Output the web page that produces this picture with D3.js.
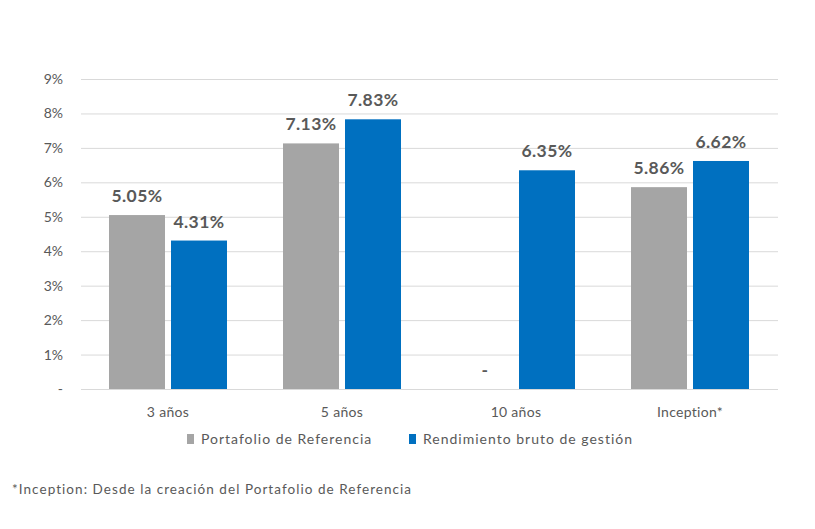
<!DOCTYPE html>
<html><head><meta charset="utf-8">
<script src="https://cdn.jsdelivr.net/npm/d3@7"></script>
<style>body{margin:0;background:#fff}svg{display:block}text{font-family:Lato,"Open Sans",sans-serif}</style>
</head><body>
<script>
const categories = ["3 años","5 años","10 años","Inception*"];
const seriesNames = ["Portafolio de Referencia","Rendimiento bruto de gestión"];
const portafolio = [5.05, 7.13, 0, 5.86];
const rendimiento = [4.31, 7.83, 6.35, 6.62];
const yTicks = [0,1,2,3,4,5,6,7,8,9];
const colors = ["#A5A5A5","#0070C0"];

const W=815,H=529;
const svg=d3.select("body").append("svg").attr("width",W).attr("height",H);
const x0=d3.scaleBand().domain(categories).range([81,777]);
const y=d3.scaleLinear().domain([0,9]).range([389,79]);

const g=svg.append("g");
g.selectAll("line.grid").data(yTicks).join("line")
 .attr("x1",81).attr("x2",778).attr("y1",d=>y(d)+0.5).attr("y2",d=>y(d)+0.5)
 .attr("stroke","#D9D9D9").attr("stroke-width",1);
g.selectAll("text.yt").data(yTicks).join("text")
 .attr("x",63).attr("y",d=>y(d)+5).attr("text-anchor","end")
 .attr("font-size",14).attr("fill","#595959")
 .text(d=>d===0?"-":d+"%");

const data=categories.map((c,i)=>({c,vals:[portafolio[i],rendimiento[i]]}));
const barW=56, inner=6;
const off=(s)=> (174-2*barW-inner)/2 + s*(barW+inner);
const grp=g.selectAll("g.cat").data(data).join("g").attr("transform",d=>`translate(${x0(d.c)},0)`);
grp.selectAll("rect").data(d=>d.vals.map((v,s)=>({v,s}))).join("rect")
 .attr("x",d=>off(d.s)).attr("width",barW)
 .attr("y",d=>y(d.v)).attr("height",d=>y(0)-y(d.v))
 .attr("fill",d=>colors[d.s]);
grp.selectAll("text.lab").data(d=>d.vals.map((v,s)=>({v,s}))).join("text")
 .attr("x",d=>off(d.s)+barW/2).attr("y",d=>y(d.v)-13)
 .attr("text-anchor","middle").attr("font-size",17.5).attr("font-weight","bold").attr("fill","#595959")
 .attr("letter-spacing",0.4)
 .text(d=>d.v===0?"-":d.v.toFixed(2)+"%");

g.selectAll("text.cat").data(categories).join("text")
 .attr("x",d=>x0(d)+87).attr("y",417).attr("text-anchor","middle")
 .attr("font-size",14).attr("fill","#595959").attr("letter-spacing",0.3).text(d=>d);

const leg=[{x:187,tx:201},{x:409,tx:423}];
seriesNames.forEach((n,i)=>{
  svg.append("rect").attr("x",leg[i].x).attr("y",434).attr("width",7).attr("height",10).attr("fill",colors[i]);
  svg.append("text").attr("x",leg[i].tx).attr("y",444).attr("font-size",14).attr("fill","#595959")
   .attr("letter-spacing",1).text(n);
});
svg.append("text").attr("x",12).attr("y",494).attr("font-size",13.5).attr("fill","#595959")
 .attr("letter-spacing",1.05)
 .text("*Inception: Desde la creación del Portafolio de Referencia");
</script>
</body></html>
